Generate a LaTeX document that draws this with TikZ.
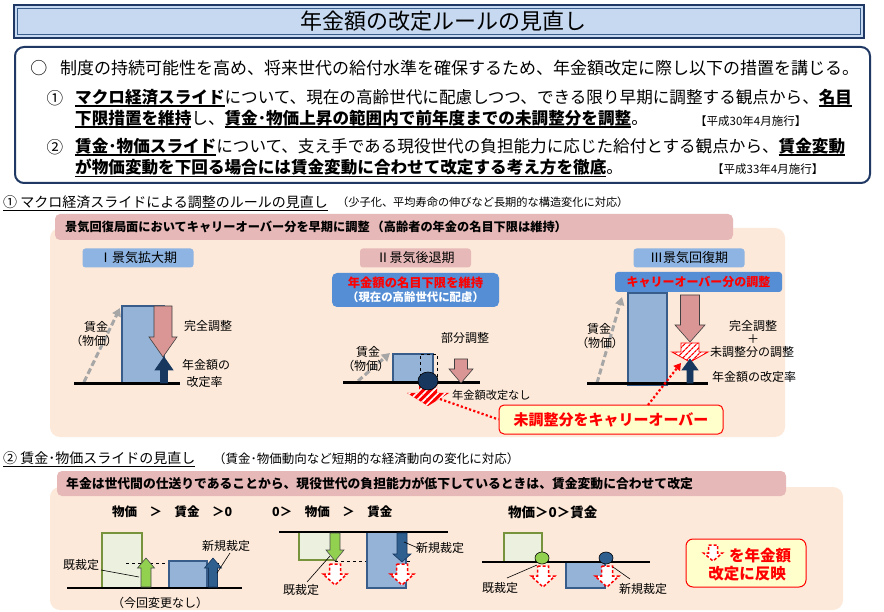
\documentclass[tikz,border=0pt]{standalone}
\usepackage{fontspec}
\setmainfont{Noto Sans CJK JP}
\usetikzlibrary{arrows.meta,patterns.meta}
\definecolor{navy}{HTML}{1F3864}
\definecolor{navyarr}{HTML}{17375E}
\definecolor{titlefill}{HTML}{C6D9F1}
\definecolor{titleinner}{HTML}{385D8A}
\definecolor{peach}{HTML}{FDE9D9}
\definecolor{pinkbar}{HTML}{E6B9B8}
\definecolor{lblue}{HTML}{8DB4E2}
\definecolor{boxblue}{HTML}{558ED5}
\definecolor{barblue}{HTML}{95B3D7}
\definecolor{barborder}{HTML}{385D8A}
\definecolor{pinkarrow}{HTML}{D99694}
\definecolor{greyarr}{HTML}{A6A6A6}
\definecolor{gfill}{HTML}{EBF1DE}
\definecolor{gborder}{HTML}{77933C}
\definecolor{garrow}{HTML}{92D050}
\definecolor{barrow}{HTML}{2F5F8F}
\definecolor{yel}{HTML}{FFFFCC}
\newcommand\fs[1]{\fontsize{#1}{#1}\selectfont}
\newcommand\myul[2][1.3pt]{\setbox0\hbox{#2}\rlap{\rule[-3.2pt]{\wd0}{#1}}\box0}
\newcommand\ulb[1]{\myul{\bfseries #1}}
\newcommand\blkarrow[7]{\path[#1] ({#2-#6},#3) -- ({#2+#6},#3) -- ({#2+#6},#4) -- ({#2+#7},#4) -- (#2,#5) -- ({#2-#7},#4) -- ({#2-#6},#4) -- cycle;}
\tikzset{
  txt/.style={inner sep=0pt},
  lab/.style={inner sep=0pt, font=\fs{12}},
  plab/.style={inner sep=0pt, font=\fs{12}\addfontfeatures{RawFeature=+palt}},
  bar/.style={fill=barblue, draw=barborder, line width=1.2pt},
  gbox/.style={fill=gfill, draw=gborder, line width=1.2pt},
  base/.style={draw=black, line width=3pt},
  pinkarr/.style={fill=pinkarrow, draw=black!75, line width=0.6pt},
  navyarr/.style={fill=navyarr, draw=navyarr, line width=0.6pt},
  garr/.style={fill=garrow, draw=black!70, line width=0.6pt},
  barr/.style={fill=barrow, draw=navyarr, line width=0.6pt},
  greyarr/.style={draw=greyarr, line width=3pt, dash pattern=on 6pt off 3pt, -{Triangle[length=8pt,width=9pt]}},
  hatchtwo/.style={fill=red, postaction={pattern={Lines[angle=45,distance=5pt,line width=1.6pt]}, pattern color=white}},
  hatchthree/.style={fill=white, draw=red, line width=0.8pt, postaction={pattern={Lines[angle=45,distance=4pt,line width=1.2pt]}, pattern color=red}},
  reddash/.style={fill=white, draw=red, line width=1.5pt, dash pattern=on 3pt off 2pt},
  reddot/.style={draw=red, line width=2.2pt, dash pattern=on 2.2pt off 2.2pt},
  leader/.style={draw=black, line width=0.6pt},
  phase/.style={rounded corners=3pt, minimum width=111pt, minimum height=19pt, inner sep=0pt, font=\fs{13}}
}
\begin{document}
\begin{tikzpicture}[x=1pt,y=-1pt]
\useasboundingbox (0,0) rectangle (884,612);
\fill[white] (0,0) rectangle (884,612);
% title
\draw[fill=titlefill, draw=navy, line width=2pt] (14,5) rectangle (864,38);
\draw[draw=titleinner, line width=0.8pt] (17.5,8.5) rectangle (860.5,34.5);
\node[txt, font=\fs{22}] (title) at (443,21.5) {年金額の改定ルールの見直し};
% top box
\draw[navy, line width=2pt, rounded corners=9pt, fill=white] (15,47) rectangle (870,183);
\node[txt, font=\fs{17}] (o) at (39,68) {○};
\node[txt, anchor=west, font=\fs{17}] (r0) at (60,68) {制度の持続可能性を高め、将来世代の給付水準を確保するため、年金額改定に際し以下の措置を講じる。};
\node[txt, font=\fs{16.6}] (c1) at (55,98) {①};
\node[txt, anchor=west, font=\fs{16.6}] (r1) at (75,98) {\ulb{マクロ経済スライド}について、現在の高齢世代に配慮しつつ、できる限り早期に調整する観点から、\ulb{名目}};
\node[txt, anchor=west, font=\fs{16.6}] (r2) at (75,119) {\ulb{下限措置を維持}し、\ulb{賃金･物価上昇の範囲内で前年度までの未調整分を調整}。};
\node[txt, anchor=west, font=\fs{11.5}] (d1) at (695,121) {【平成30年4月施行】};
\node[txt, font=\fs{16.6}] (c2) at (55,147) {②};
\node[txt, anchor=west, font=\fs{16.6}] (r3) at (75,147) {\ulb{賃金･物価スライド}について、支え手である現役世代の負担能力に応じた給付とする観点から、\ulb{賃金変動}};
\node[txt, anchor=west, font=\fs{16.6}] (r4) at (75,168) {\ulb{が物価変動を下回る場合には賃金変動に合わせて改定する考え方を徹底}。};
\node[txt, anchor=west, font=\fs{11.5}] (d2) at (712,169) {【平成33年4月施行】};
% section 1 heading
\node[txt, anchor=west, font=\fs{14}] (h1) at (3,203) {\myul[0.8pt]{① マクロ経済スライドによる調整のルールの見直し}};
\node[txt, anchor=west, font=\fs{11.2}] (h1b) at (337,202) {（少子化、平均寿命の伸びなど長期的な構造変化に対応）};
% panel 1
\fill[peach, rounded corners=10pt] (50,228) rectangle (785,437);
\fill[pinkbar, rounded corners=5pt] (55,214) rectangle (733,240);
\node[txt, anchor=west, font=\fs{12.2}\bfseries] (hb1) at (65,227) {景気回復局面においてキャリーオーバー分を早期に調整\,（高齢者の年金の名目下限は維持）};
\node[phase, fill=lblue] (p1) at (138,258) {Ⅰ景気拡大期};
\node[phase, fill=pinkbar] (p2) at (415.5,258) {Ⅱ景気後退期};
\node[phase, fill=lblue] (p3) at (689,258) {Ⅲ景気回復期};
% phase I
\draw[greyarr] (84,382) -- (120,308);
\draw[bar] (122,306) rectangle (164,384);
\blkarrow{pinkarr}{163}{306}{337}{357}{9}{14}
\draw[base] (74,384) -- (180,384);
\blkarrow{navyarr}{164}{383}{370}{357}{3.5}{9}
\node[lab] (w1) at (96,327) {賃金};
\node[plab] (w1b) at (94,341) {（物価）};
\node[lab] (f1) at (208,326) {完全調整};
\node[lab] (n1) at (206,365) {年金額の};
\node[lab] (n1b) at (204.5,382) {改定率};
% phase II
\fill[boxblue, rounded corners=5pt] (332,273) rectangle (499,307);
\node[txt, font=\fs{12.3}\bfseries, text=red] (k2a) at (415.5,283) {年金額の名目下限を維持};
\node[txt, font=\fs{11.4}\bfseries, text=white] (k2b) at (415.5,297.5) {（現在の高齢世代に配慮）};
\draw[greyarr] (358,381) -- (390,353);
\draw[bar] (393,354) rectangle (433,383);
\draw[dashed, line width=0.9pt] (420,383) -- (420,354) -- (437,354) -- (437,383);
\draw[base] (343,383) -- (480,383);
\blkarrow{pinkarr}{461}{359}{369}{383}{6.5}{12}
\blkarrow{hatchtwo}{428}{385}{393}{406}{9}{21}
\draw[fill=navyarr, draw=black, line width=0.6pt] (428,381) ellipse [x radius=10pt, y radius=9pt];
\node[lab] (w2) at (368,352) {賃金};
\node[plab] (w2b) at (366,366) {（物価）};
\node[lab] (f2) at (465,338) {部分調整};
\node[txt, anchor=west, font=\fs{11.2}] (n2) at (452,395) {年金額改定なし};
\node[fill=yel, draw=red, line width=1pt, rounded corners=5pt, minimum width=224pt, minimum height=29pt, inner sep=0pt, font=\fs{15}\bfseries, text=red] (co) at (611,419.5) {未調整分をキャリーオーバー};
\coordinate (s2) at (440,399);
\draw[reddot] (s2) -- (co.west);
% phase III
\node[fill=boxblue, rounded corners=3pt, minimum width=167pt, minimum height=20pt, inner sep=0pt, text=red, font=\fs{12}\bfseries] (k3) at (698.5,282) {キャリーオーバー分の調整};
\draw[greyarr] (597,383) -- (622,297);
\draw[bar] (628,293) rectangle (667,385);
\draw[base] (587,384) -- (708,384);
\blkarrow{pinkarr}{690}{295}{325}{342}{9.5}{15}
\blkarrow{hatchthree}{690}{343}{352}{362}{9}{18}
\blkarrow{navyarr}{690}{383}{370}{359}{3}{8}
\coordinate (s3) at (648,405);
\coordinate (e3) at (681,363);
\draw[reddot, -{Triangle[length=7pt,width=8pt]}] (s3) -- (e3);
\node[lab] (w3) at (599,329) {賃金};
\node[plab] (w3b) at (600,343) {（物価）};
\node[lab] (f3) at (753,326) {完全調整};
\node[lab] (f3b) at (753,339) {＋};
\node[lab] (f3c) at (752,352) {未調整分の調整};
\node[lab] (n3) at (754,377) {年金額の改定率};
% section 2 heading
\node[txt, anchor=west, font=\fs{14}] (h2) at (3,459) {\myul[0.8pt]{② 賃金･物価スライドの見直し}};
\node[txt, anchor=west, font=\fs{12.5}] (h2b) at (213,459) {（賃金･物価動向など短期的な経済動向の変化に対応）};
% panel 2
\fill[peach, rounded corners=10pt] (50,487) rectangle (843,610);
\fill[pinkbar, rounded corners=5pt] (57,471) rectangle (786,496);
\node[txt, anchor=west, font=\fs{12.8}\bfseries] (hb2) at (66,483.5) {年金は世代間の仕送りであることから、現役世代の負担能力が低下しているときは、賃金変動に合わせて改定};
\node[txt, anchor=west, font=\fs{12.5}\bfseries] (ca) at (112,512) {物価　＞　賃金　＞0};
\node[txt, anchor=west, font=\fs{12.5}\bfseries] (cb) at (272,512) {0＞　物価　＞　賃金};
\node[txt, anchor=west, font=\fs{13.5}\bfseries] (cc) at (508,512) {物価＞0＞賃金};
% case A
\draw[gbox] (102,533) rectangle (142,588);
\draw[dashed, line width=0.6pt] (126,563) -- (220,563);
\draw[bar] (169,561) rectangle (207,588);
\draw[draw=black, line width=2.5pt] (67,588) -- (242,588);
\blkarrow{garr}{146}{587}{568}{558}{5}{8.5}
\blkarrow{barr}{213}{587}{568}{558}{4.5}{8.5}
\node[lab] (kA) at (81,565) {既裁定};
\draw[leader] (101,570) -- (139,577);
\node[lab] (sA) at (226,546) {新規裁定};
\draw[leader] (230,553) -- (217,573);
\node[lab] (nA) at (160,603) {（今回変更なし）};
% case B
\draw[gbox] (299,532) rectangle (336,560);
\draw[dashed, line width=0.6pt] (335,561) -- (412,561);
\draw[bar] (367,532) rectangle (406,588);
\draw[draw=black, line width=2.5pt] (279,532) -- (448,532);
\blkarrow{garr}{335}{533}{550}{561}{5}{9}
\blkarrow{barr}{402}{533}{554}{562}{5}{9}
\blkarrow{reddash}{335}{564}{574}{585}{5.5}{12}
\blkarrow{reddash}{402}{564}{574}{585}{5.5}{12}
\node[lab] (sB) at (440,548) {新規裁定};
\draw[leader] (418,548) -- (404,542);
\node[lab] (kB) at (301,590) {既裁定};
\draw[leader] (307,582) -- (330,556);
% case C
\draw[gbox] (504,533) rectangle (542,562);
\draw[bar] (566,562) rectangle (605,588);
\draw[draw=black, line width=2.5pt] (482,562) -- (650,562);
\draw[fill=garrow, draw=black, line width=0.6pt] (542,558) ellipse [x radius=7pt, y radius=6pt];
\draw[fill=barrow, draw=black, line width=0.6pt] (606,558) ellipse [x radius=7pt, y radius=6pt];
\blkarrow{reddash}{543}{566}{576}{587}{5.5}{12}
\blkarrow{reddash}{607}{566}{576}{587}{5.5}{12}
\node[lab] (kC) at (500,588) {既裁定};
\draw[leader] (507,578) -- (537,565);
\node[lab] (sC) at (643,589) {新規裁定};
\draw[leader] (630,579) -- (613,567);
% legend
\node[fill=yel, draw=red, line width=1pt, rounded corners=7pt, minimum width=120pt, minimum height=48pt, inner sep=0pt] (lg) at (746,563) {};
\blkarrow{reddash}{713}{545}{553}{561}{4.5}{9.5}
\node[txt, anchor=west, font=\fs{15.5}\bfseries, text=red] (lg1) at (729,556) {を年金額};
\node[txt, font=\fs{15.5}\bfseries, text=red] (lg2) at (747,574) {改定に反映};
\end{tikzpicture}
\end{document}
